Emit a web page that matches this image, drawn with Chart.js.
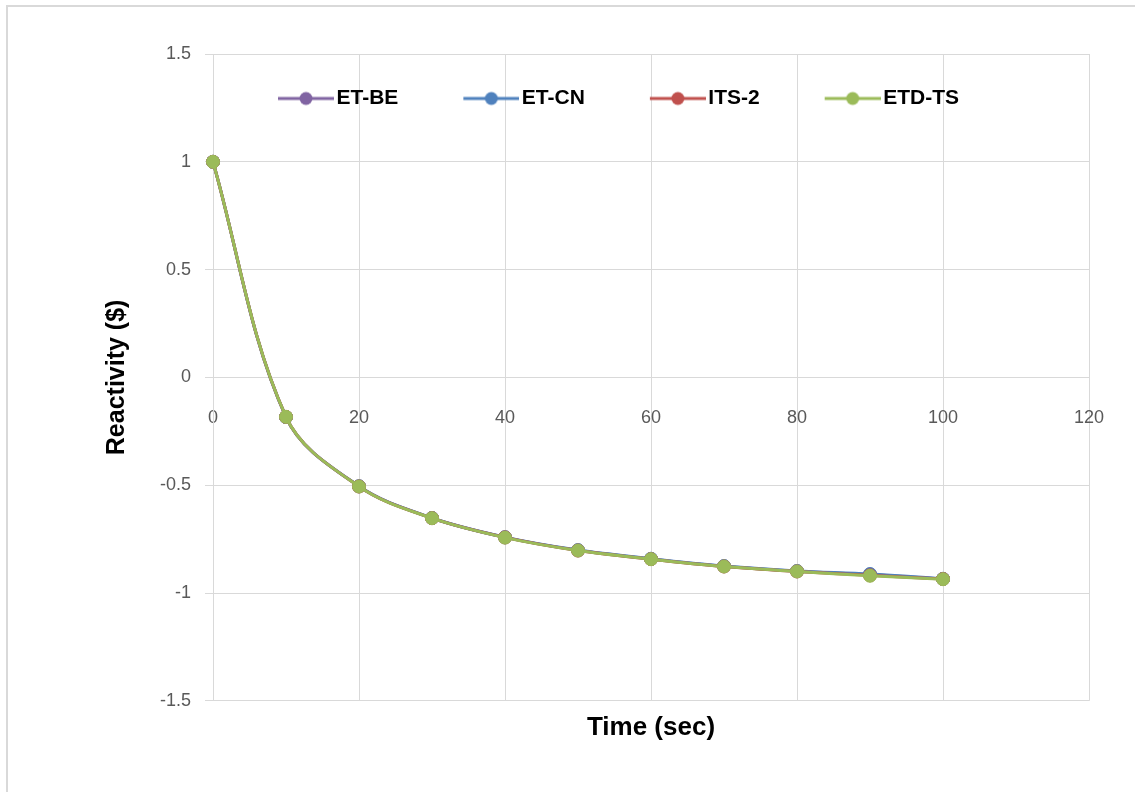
<!DOCTYPE html>
<html>
<head>
<meta charset="utf-8">
<script src="https://cdn.jsdelivr.net/npm/chart.js@4.4.0/dist/chart.umd.min.js"></script>
<style>
  body { margin: 0; background: #fff; }
</style>
</head>
<body>
<canvas id="chart" width="1135" height="792"></canvas>
<script>
// values
const times = [0, 10, 20, 30, 40, 50, 60, 70, 80, 90, 100];
const etBE  = [1, -0.184, -0.505, -0.652, -0.742, -0.802, -0.842, -0.876, -0.899, -0.914, -0.935];
const etCN  = [1, -0.184, -0.505, -0.652, -0.741, -0.801, -0.841, -0.875, -0.898, -0.912, -0.934];
const its2  = [1, -0.183, -0.506, -0.653, -0.742, -0.803, -0.843, -0.877, -0.900, -0.918, -0.935];
const etdTS = [1, -0.183, -0.506, -0.653, -0.743, -0.803, -0.843, -0.877, -0.900, -0.920, -0.936];
const seriesNames = ['ET-BE', 'ET-CN', 'ITS-2', 'ETD-TS'];
const seriesColors = ['#8064a2', '#4f81bd', '#c0504d', '#9bbb59'];
const seriesValues = [etBE, etCN, its2, etdTS];

const FONT = "'Liberation Sans', Arial, sans-serif";
const GRID = '#d9d9d9';

// little line + dot marker for the legend
function legendIcon(color) {
  const c = document.createElement('canvas');
  c.width = 96; c.height = 16;
  const g = c.getContext('2d');
  g.strokeStyle = color;
  g.lineWidth = 3;
  g.beginPath();
  g.moveTo(40, 8);
  g.lineTo(96, 8);
  g.stroke();
  g.fillStyle = color;
  g.beginPath();
  g.arc(68, 8, 6.5, 0, Math.PI * 2);
  g.fill();
  return c;
}
const icons = seriesColors.map(legendIcon);

const datasets = seriesNames.map((name, i) => ({
  label: name,
  data: times.map((t, j) => ({ x: t, y: seriesValues[i][j] })),
  borderColor: seriesColors[i],
  backgroundColor: seriesColors[i],
  pointBackgroundColor: seriesColors[i],
  pointBorderColor: seriesColors[i],
  pointRadius: 6.5,
  pointBorderWidth: 1,
  borderWidth: 3,
  tension: 0.35,
  clip: false,
  order: seriesNames.length - i
}));

const frame = {
  id: 'frame',
  beforeDraw(chart) {
    const ctx = chart.ctx;
    ctx.save();
    ctx.fillStyle = '#fff';
    ctx.fillRect(0, 0, chart.width, chart.height);
    ctx.strokeStyle = GRID;
    ctx.lineWidth = 2;
    ctx.strokeRect(7, 6, chart.width + 10, chart.height + 10);
    ctx.restore();
  }
};

// legend sits inside the plot area, like the original
const legendInside = {
  id: 'legendInside',
  afterLayout(chart) {
    const l = chart.legend;
    const h = l.bottom - l.top;
    l.top = chart.chartArea.top + 1;
    l.bottom = l.top + h;
  }
};

const ctx = document.getElementById('chart').getContext('2d');
const chart = new Chart(ctx, {
  type: 'line',
  data: { datasets: datasets },
  plugins: [frame, legendInside],
  options: {
    responsive: false,
    animation: false,
    layout: { padding: { top: 0, right: 46, bottom: 49, left: 0 } },
    scales: {
      x: {
        type: 'linear',
        min: 0,
        max: 120,
        position: { y: 0 },
        ticks: { stepSize: 20, color: '#595959', padding: 22, font: { family: FONT, size: 18 } },
        grid: { color: GRID, tickLength: 8 },
        border: { color: GRID }
      },
      y: {
        min: -1.5,
        max: 1.5,
        ticks: {
          stepSize: 0.5,
          color: '#595959',
          padding: 14,
          font: { family: FONT, size: 18 },
          callback: v => String(v)
        },
        grid: { color: GRID, tickLength: 8 },
        border: { color: GRID },
        title: {
          display: true,
          text: 'Reactivity ($)',
          color: '#000',
          font: { family: FONT, size: 25, weight: 'bold' },
          padding: { top: 102, bottom: 0 }
        },
        afterFit(scale) { scale.width = 213; }
      }
    },
    plugins: {
      title: {
        display: true,
        position: 'bottom',
        fullSize: false,
        text: 'Time (sec)',
        color: '#000',
        font: { family: FONT, size: 26, weight: 'bold' },
        padding: { top: 11, bottom: 0 }
      },
      legend: {
        position: 'top',
        fullSize: false,
        align: 'start',
        maxHeight: 54,
        labels: {
          usePointStyle: true,
          pointStyleWidth: 80,
          padding: 33,
          color: '#000',
          font: { family: FONT, size: 21, weight: 'bold' },
          generateLabels(chart) {
            return chart.data.datasets.map((ds, i) => ({
              text: ds.label,
              pointStyle: icons[i],
              fillStyle: ds.borderColor,
              strokeStyle: ds.borderColor,
              lineWidth: 0,
              fontColor: '#000',
              hidden: !chart.isDatasetVisible(i),
              datasetIndex: i
            }));
          }
        }
      },
      tooltip: { enabled: false }
    }
  }
});
</script>
</body>
</html>
